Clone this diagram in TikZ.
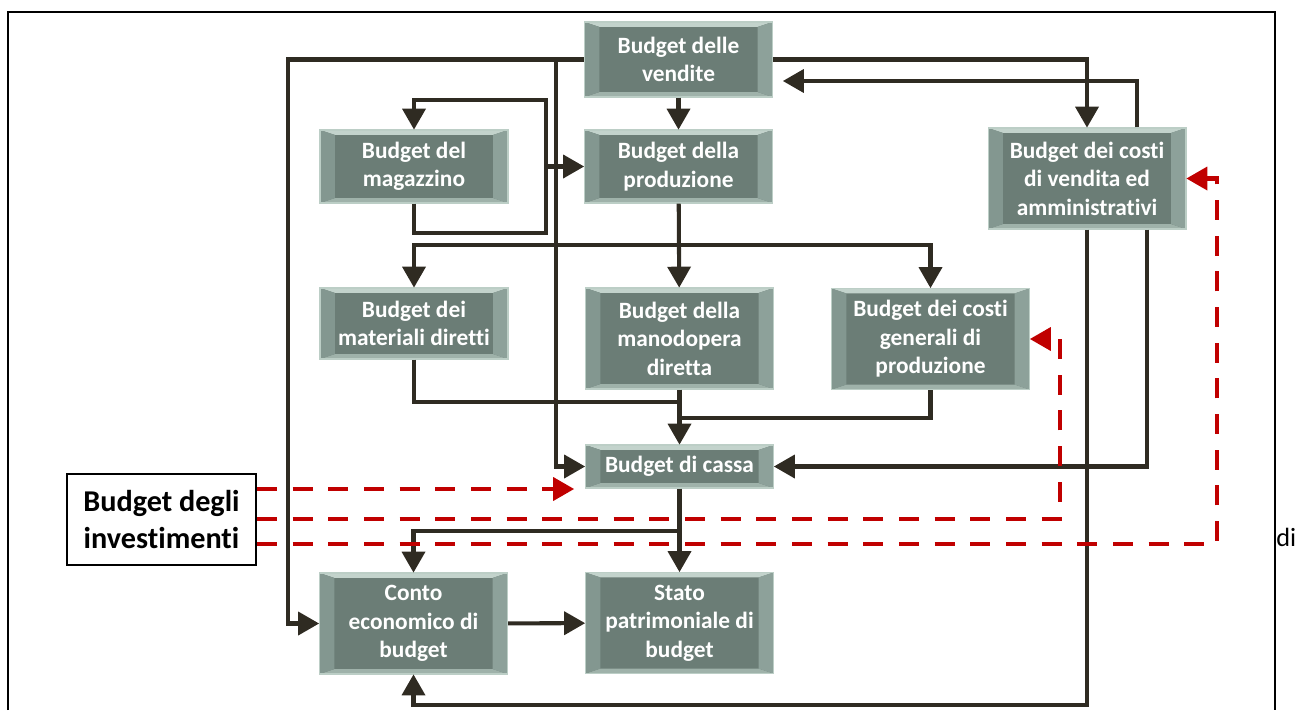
\documentclass[tikz,border=0pt]{standalone}
\usepackage{fontspec}
\setmainfont{Carlito}[Ligatures={NoCommon}]
\usepackage{tikz}
\usetikzlibrary{arrows}

\definecolor{boxface}{HTML}{6B7D76}
\definecolor{boxedge}{HTML}{BCCEC6}
\definecolor{bevtop}{HTML}{C3D3CC}
\definecolor{bevbot}{HTML}{9FB2AA}
\definecolor{bevleft}{HTML}{839790}
\definecolor{bevright}{HTML}{8DA19A}
\definecolor{wire}{HTML}{2F2B22}
\definecolor{invred}{HTML}{C00000}

\begin{document}
\begin{tikzpicture}[x=0.02cm, y=-0.02cm, >=triangle 60,
	budget/.style={rectangle, draw=boxedge, line width=0.6pt, fill=boxface, text=white,
		font=\bfseries\fontsize{13.3}{16.2}\selectfont, align=center, inner sep=0pt,
		minimum width=3.76cm, minimum height=1.46cm,
		path picture={
			\path (path picture bounding box.south west) coordinate (sw)
			      (path picture bounding box.north east) coordinate (ne);
			\fill[bevtop] (sw |- ne) -- (ne) -- ([shift={(-8.5pt,-2.8pt)}]ne) -- ([shift={(8.5pt,-2.8pt)}]sw |- ne) -- cycle;
			\fill[bevbot] (sw) -- (sw -| ne) -- ([shift={(-8.5pt,2.8pt)}]sw -| ne) -- ([shift={(8.5pt,2.8pt)}]sw) -- cycle;
			\fill[bevleft] (sw) -- (sw |- ne) -- ([shift={(8.5pt,-2.8pt)}]sw |- ne) -- ([shift={(8.5pt,2.8pt)}]sw) -- cycle;
			\fill[bevright] (ne) -- (sw -| ne) -- ([shift={(-8.5pt,2.8pt)}]sw -| ne) -- ([shift={(-8.5pt,-2.8pt)}]ne) -- cycle;
		}},
	tall/.style={minimum height=2.02cm},
	wide/.style={minimum width=3.96cm},
	link/.style={draw=wire, line width=2.3pt},
	flow/.style={link, ->},
	invflow/.style={draw=invred, line width=2.3pt, dash pattern=on 11.3pt off 9pt, ->}]
	\useasboundingbox (0,0) rectangle (1298,710);
	% frame
	\draw[line width=1.1pt] (8,710) -- (8,12) -- (1275,12) -- (1275,710);
	\node[anchor=west, inner sep=0pt, font=\fontsize{15}{17}\selectfont] (frag) at (1276,537) {di};

	% boxes
	\node[budget, minimum height=1.5cm] (vend) at (678.5,59.5) {Budget delle\\vendite};
	\node[budget] (prod) at (678.5,166.5) {Budget della\\produzione};
	\node[budget] (mag) at (414,166.5) {Budget del\\magazzino};
	\node[budget, tall, wide] (cvend) at (1087,178.5) {Budget dei costi\\di vendita ed\\amministrativi};
	\node[budget, minimum height=1.42cm] (mat) at (414,323.5) {Budget dei\\materiali diretti};
	\node[budget, tall] (mano) at (679.5,338.5) {Budget della\\manodopera\\diretta};
	\node[budget, tall, wide] (cgen) at (930.5,339) {Budget dei costi\\generali di\\produzione};
	\node[budget, minimum height=0.86cm] (cassa) at (679.5,466.5) {Budget di cassa};
	\node[budget, tall] (conto) at (413.5,623.5) {Conto\\economico di\\budget};
	\node[budget, tall] (stato) at (679.5,623) {Stato\\patrimoniale di\\budget};
	\node[draw, line width=1.2pt, fill=white, align=center, inner sep=0pt,
		minimum width=3.78cm, minimum height=1.82cm,
		font=\bfseries\fontsize{17.2}{21}\selectfont] (invest) at (161.5,519.5) {Budget degli\\investimenti};

	% bus lines
	\coordinate (lbus) at (288,0);
	\coordinate (cbus) at (556,0);
	\coordinate (magb) at (414,233);
	\coordinate (magr) at (546,100);
	\coordinate (pbus) at (0,245);
	\coordinate (mbus) at (0,402);
	\coordinate (gbus) at (0,418);
	\coordinate (sbus) at (0,531);
	\coordinate (bot) at (0,705);
	\coordinate (rvx) at (1137,81);
	\coordinate (cvx) at (1147,0);
	\coordinate (gx) at (1060,0);
	\coordinate (vx) at (1217,0);
	\coordinate (r1) at (0,489);
	\coordinate (r2) at (0,519);
	\coordinate (r3) at (0,544);

	% black connectors
	\draw[flow] (vend) -- (prod);
	\draw[flow] (vend.west) -- (vend.west -| lbus) -- (conto.west -| lbus) -- (conto.west);
	\draw[flow] (vend.west -| cbus) |- (cassa.west);
	\draw[flow] (vend.east) -| (cvend.north);
	\draw[flow, shorten >=0.2cm] (rvx |- cvend.north) -- (rvx) -- (rvx -| vend.east);
	\draw[flow] (mag.south) -- (magb) -| (magr) -| (mag.north);
	\draw[flow] (magr |- prod.west) -- (prod.west);
	\draw[flow] (prod) -- (mano);
	\draw[flow] (prod.south |- pbus) -| (mat.north);
	\draw[flow] (prod.south |- pbus) -| (cgen.north);
	\draw[link] (mat.south) |- (mano.south |- mbus);
	\draw[link] (cgen.south) |- (mano.south |- gbus);
	\draw[flow] (mano) -- (cassa);
	\draw[flow] (cvend.south -| cvx) |- (cassa.east);
	\draw[flow] (cvend.south) -- (cvend.south |- bot) -| (conto.south);
	\draw[flow] (cassa) -- (stato);
	\draw[flow] (cassa.south |- sbus) -| (conto.north);
	\draw[flow] (conto) -- (stato);

	% red dashed connectors
	\draw[invflow, shorten >=0.22cm] (invest.east |- r1) -- (cassa.west |- r1);
	\draw[invflow] (invest.east |- r2) -- (gx |- r2) -- (gx |- cgen.east) -- (cgen.east);
	\draw[invflow] (invest.east |- r3) -- (vx |- r3) -- (vx |- cvend.east) -- (cvend.east);
\end{tikzpicture}
\end{document}
